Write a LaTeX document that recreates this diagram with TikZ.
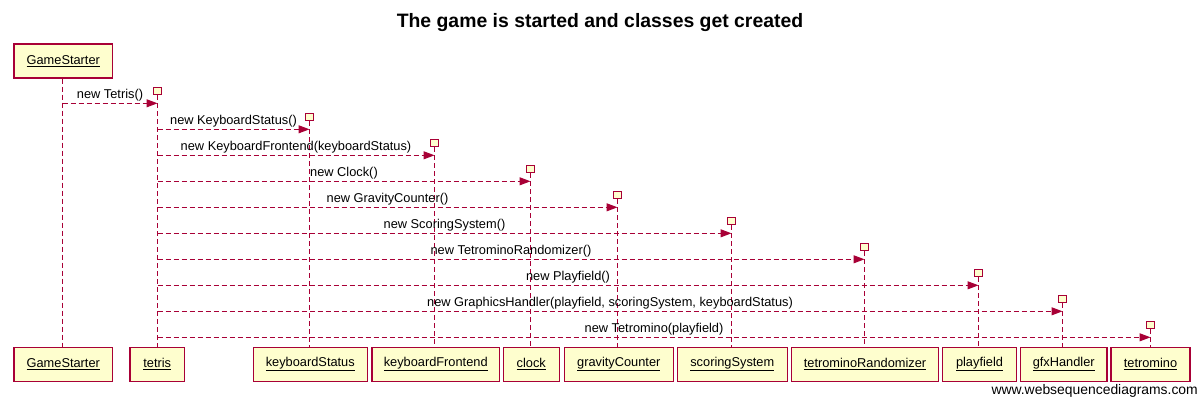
\documentclass[tikz,border=0pt]{standalone}
\usepackage{fontspec}
\setmainfont{Liberation Sans}
\usetikzlibrary{arrows.meta}
\definecolor{wsdline}{HTML}{A80036}
\definecolor{wsdfill}{HTML}{FEFECE}
\tikzset{
  partbox/.style={draw=wsdline, fill=wsdfill, line width=1.2pt, minimum height=34pt, inner sep=0pt, font=\fontsize{12.8pt}{14pt}\selectfont},
  actbox/.style={draw=wsdline, fill=wsdfill, line width=1.1pt, minimum width=8pt, minimum height=7.5pt, inner sep=0pt},
  lifeline/.style={draw=wsdline, line width=1pt, dash pattern=on 5pt off 3pt},
  msg/.style={draw=wsdline, line width=1pt, dash pattern=on 5pt off 3pt, -{Triangle[length=11pt,width=8pt]}},
  msglabel/.style={anchor=base, inner sep=0pt, font=\fontsize{12.8pt}{14pt}\selectfont},
}
\newcommand{\ul}[1]{\underline{#1}}
\begin{document}
\begin{tikzpicture}[x=1pt,y=-1pt]
\useasboundingbox (0,0) rectangle (1201,402);
% title
\node[anchor=base, inner sep=0pt, font=\fontsize{19.4pt}{22pt}\selectfont\bfseries] (title) at (600,27) {The game is started and classes get created};
% participants (top)
\node[partbox, minimum width=98.5pt] (gsTop) at (63.3,61) {\ul{GameStarter}};
% bottom participants
\node[partbox, minimum width=98.5pt] (gsB) at (63.3,364.3) {\ul{GameStarter}};
\node[partbox, minimum width=54.3pt] (tetrisB) at (157.2,364.3) {\ul{tetris}};
\node[partbox, minimum width=114pt] (ksB) at (310.3,364.3) {\ul{keyboardStatus}};
\node[partbox, minimum width=127.3pt] (kfB) at (435.7,364.3) {\ul{keyboardFrontend}};
\node[partbox, minimum width=56pt] (clockB) at (531.3,364.3) {\ul{clock}};
\node[partbox, minimum width=109pt] (gcB) at (618.8,364.3) {\ul{gravityCounter}};
\node[partbox, minimum width=110pt] (ssB) at (732.3,364.3) {\ul{scoringSystem}};
\node[partbox, minimum width=146.3pt] (trB) at (865,364.3) {\ul{tetrominoRandomizer}};
\node[partbox, minimum width=74.4pt] (pfB) at (979.5,364.3) {\ul{playfield}};
\node[partbox, minimum width=86.7pt] (gfxB) at (1063.7,364.3) {\ul{gfxHandler}};
\node[partbox, minimum width=79pt] (tmB) at (1150.5,364.3) {\ul{tetromino}};
% activation squares
\node[actbox] (tetrisA) at (157.5,91) {};
\node[actbox] (ksA) at (309.5,117) {};
\node[actbox] (kfA) at (434.5,143) {};
\node[actbox] (clockA) at (530.5,169) {};
\node[actbox] (gcA) at (617.5,195) {};
\node[actbox] (ssA) at (731.5,221) {};
\node[actbox] (trA) at (864.5,247) {};
\node[actbox] (pfA) at (978.5,273) {};
\node[actbox] (gfxA) at (1062.5,299) {};
\node[actbox] (tmA) at (1150.5,325) {};
% lifeline ends
\coordinate (gsL) at (62.5,347.3);
\coordinate (tetrisL) at (157.5,347.3);
\coordinate (ksL) at (309.5,347.3);
\coordinate (kfL) at (434.5,347.3);
\coordinate (clockL) at (530.5,347.3);
\coordinate (gcL) at (617.5,347.3);
\coordinate (ssL) at (731.5,347.3);
\coordinate (trL) at (864.5,347.3);
\coordinate (pfL) at (978.5,347.3);
\coordinate (gfxL) at (1062.5,347.3);
\coordinate (tmL) at (1150.5,347.3);
\draw[lifeline] (gsL |- gsTop.south) -- (gsL);
\foreach \n in {tetris,ks,kf,clock,gc,ss,tr,pf,gfx,tm}{
  \draw[lifeline] (\n A.south) -- (\n L);
}
% message endpoints
\coordinate (m1s) at (62.5,103.3);
\coordinate (m1e) at (157.5,103.3);
\foreach \i/\x in {2/309.5,3/434.5,4/530.5,5/617.5,6/731.5,7/864.5,8/978.5,9/1062.5,10/1150.5}{
  \coordinate (m\i s) at (157.5,{103.3+26*(\i-1)});
  \coordinate (m\i e) at (\x,{103.3+26*(\i-1)});
}
\draw[msg] (m1s) -- (m1e) node[msglabel, pos=0.5, yshift=4.6pt] (l1) {new Tetris()};
\draw[msg] (m2s) -- (m2e) node[msglabel, pos=0.5, yshift=4.6pt] (l2) {new KeyboardStatus()};
\draw[msg] (m3s) -- (m3e) node[msglabel, pos=0.5, yshift=4.6pt] (l3) {new KeyboardFrontend(keyboardStatus)};
\draw[msg] (m4s) -- (m4e) node[msglabel, pos=0.5, yshift=4.6pt] (l4) {new Clock()};
\draw[msg] (m5s) -- (m5e) node[msglabel, pos=0.5, yshift=4.6pt] (l5) {new GravityCounter()};
\draw[msg] (m6s) -- (m6e) node[msglabel, pos=0.5, yshift=4.6pt] (l6) {new ScoringSystem()};
\draw[msg] (m7s) -- (m7e) node[msglabel, pos=0.5, yshift=4.6pt] (l7) {new TetrominoRandomizer()};
\draw[msg] (m8s) -- (m8e) node[msglabel, pos=0.5, yshift=4.6pt] (l8) {new Playfield()};
\draw[msg] (m9s) -- (m9e) node[msglabel, pos=0.5, yshift=4.6pt] (l9) {new GraphicsHandler(playfield, scoringSystem, keyboardStatus)};
\draw[msg] (m10s) -- (m10e) node[msglabel, pos=0.5, yshift=4.6pt] (l10) {new Tetromino(playfield)};
% redraw activation squares on top
\foreach \n in {tetris,ks,kf,clock,gc,ss,tr,pf,gfx,tm}{
  \node[actbox] at (\n A) {};
}
% watermark
\node[anchor=base east, inner sep=0pt, font=\fontsize{13.9pt}{16pt}\selectfont] (wm) at (1198,394.5) {www.websequencediagrams.com};
\end{tikzpicture}
\end{document}
